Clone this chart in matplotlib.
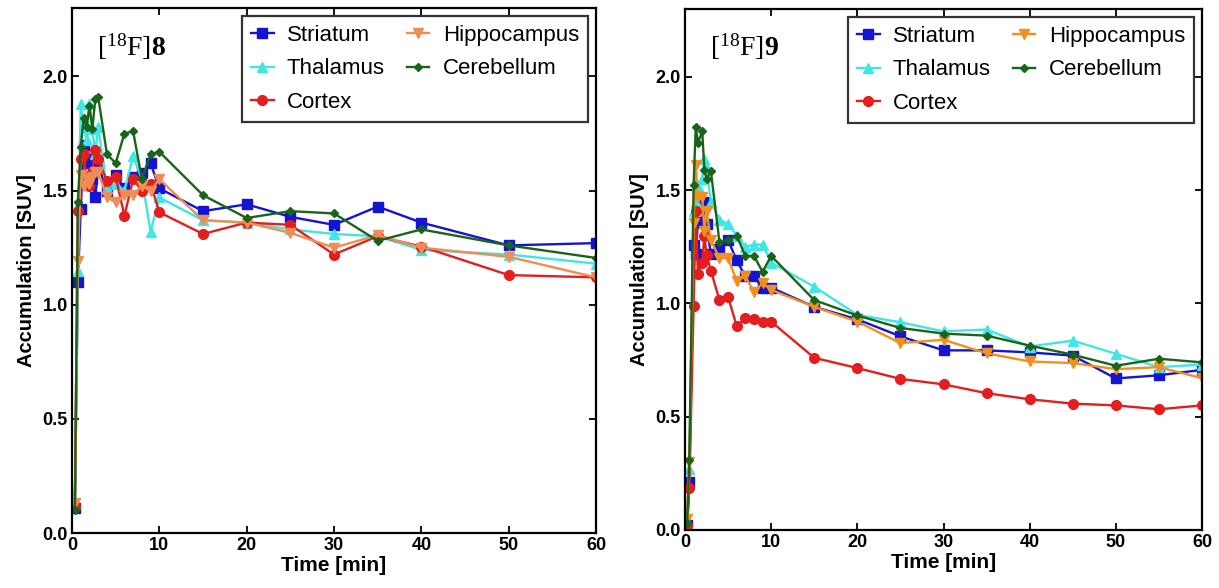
import numpy as np
import matplotlib.pyplot as plt

plt.rcParams['font.family'] = ['Liberation Sans', 'DejaVu Sans']
plt.rcParams['mathtext.fontset'] = 'custom'
plt.rcParams['mathtext.rm'] = 'Liberation Serif'
plt.rcParams['mathtext.bf'] = 'Liberation Serif:bold'

# ---- [18F]8 (left) ----
t8 = [0.33, 0.67, 1.0, 1.33, 1.67, 2.0, 2.33, 2.67, 3.0,
      4, 5, 6, 7, 8, 9, 10, 15, 20, 25, 30, 35, 40, 50, 60]
str8 = [0.11, 1.10, 1.42, 1.70, 1.64, 1.62, 1.55, 1.47, 1.61,
        1.50, 1.57, 1.51, 1.56, 1.575, 1.62, 1.51, 1.41, 1.44, 1.385, 1.35, 1.43, 1.36, 1.26, 1.27]
tha8 = [0.13, 1.15, 1.88, 1.78, 1.72, 1.88, 1.77, 1.66, 1.78,
        1.51, 1.53, 1.50, 1.65, 1.55, 1.32, 1.47, 1.37, 1.36, 1.33, 1.31, 1.30, 1.24, 1.22, 1.18]
cor8 = [0.12, 1.41, 1.64, 1.66, 1.54, 1.52, 1.58, 1.68, 1.64,
        1.54, 1.56, 1.39, 1.55, 1.50, 1.53, 1.405, 1.31, 1.36, 1.35, 1.22, 1.30, 1.255, 1.13, 1.12]
hip8 = [0.13, 1.19, 1.57, 1.52, 1.55, 1.53, 1.56, 1.58, 1.58,
        1.47, 1.45, 1.48, 1.48, 1.52, 1.50, 1.55, 1.37, 1.36, 1.315, 1.25, 1.305, 1.25, 1.21, 1.12]
cer8 = [0.10, 1.45, 1.69, 1.82, 1.78, 1.87, 1.77, 1.90, 1.91,
        1.66, 1.62, 1.75, 1.76, 1.55, 1.66, 1.67, 1.48, 1.38, 1.41, 1.40, 1.28, 1.33, 1.26, 1.205]

# ---- [18F]9 (right) ----
t9 = [0.25, 0.5, 1.0, 1.25, 1.5, 2.0, 2.25, 2.5, 3.0,
      4, 5, 6, 7, 8, 9, 10, 15, 20, 25, 30, 35, 40, 45, 50, 55, 60]
str9 = [0.02, 0.21, 1.26, 1.22, 1.36, 1.36, 1.45, 1.35, 1.22,
        1.24, 1.28, 1.19, 1.12, 1.12, 1.067, 1.07, 0.985, 0.93, 0.855, 0.793, 0.793, 0.784, 0.77, 0.669, 0.683, 0.707]
tha9 = [0.03, 0.27, 1.41, 1.45, 1.52, 1.55, 1.64, 1.60, 1.45,
        1.37, 1.35, 1.30, 1.25, 1.26, 1.26, 1.18, 1.074, 0.95, 0.917, 0.877, 0.885, 0.81, 0.836, 0.778, 0.719, 0.73]
cor9 = [0.02, 0.186, 0.99, 1.41, 1.13, 1.18, 1.30, 1.215, 1.145,
        1.015, 1.03, 0.90, 0.935, 0.93, 0.92, 0.92, 0.76, 0.715, 0.667, 0.643, 0.604, 0.577, 0.558, 0.55, 0.533, 0.55]
hip9 = [0.05, 0.30, 1.355, 1.61, 1.47, 1.47, 1.32, 1.41, 1.28,
        1.20, 1.20, 1.10, 1.12, 1.05, 1.09, 1.06, 0.985, 0.92, 0.825, 0.84, 0.78, 0.744, 0.737, 0.71, 0.719, 0.67]
cer9 = [0.03, 0.31, 1.525, 1.78, 1.71, 1.76, 1.59, 1.55, 1.585,
        1.27, 1.28, 1.30, 1.21, 1.21, 1.14, 1.21, 1.015, 0.947, 0.892, 0.867, 0.858, 0.814, 0.774, 0.725, 0.756, 0.74]

names = ['Striatum', 'Thalamus', 'Cortex', 'Hippocampus', 'Cerebellum']
markers = ['s', '^', 'o', 'v', 'D']
msizes = [6.5, 6.5, 7, 6.5, 4.5]
colors8 = ['#1414D2', '#40E6E6', '#E41E1E', '#F08C55', '#1A641A']
colors9 = ['#1414D2', '#40E6E6', '#E41E1E', '#F0901E', '#1A641A']

fig = plt.figure(figsize=(12.19, 5.88), dpi=100)
ax1 = fig.add_axes([72/1219, 1-533/588, 524/1219, 525/588])
ax2 = fig.add_axes([685/1219, 1-530/588, 517/1219, 521/588])


def panel(ax, t, series, colors, label):
  for y, n, m, ms, c in zip(series, names, markers, msizes, colors):
    ax.plot(t, y, color=c, marker=m, markersize=ms, linewidth=1.7, label=n)
  ax.set_xlim(0, 60)
  ax.set_ylim(0, 2.3)
  ax.set_xticks([0, 10, 20, 30, 40, 50, 60])
  ax.set_yticks([0.0, 0.5, 1.0, 1.5, 2.0])
  ax.set_yticklabels(['0.0', '0.5', '1.0', '1.5', '2.0'])
  ax.tick_params(direction='in', top=True, right=True, length=5, width=1.3,
                 labelsize=13, pad=3)
  for lab in ax.get_xticklabels() + ax.get_yticklabels():
    lab.set_fontweight('bold')
  for s in ax.spines.values():
    s.set_linewidth(1.6)
  ax.set_xlabel('Time [min]', fontsize=15, fontweight='bold', labelpad=1)
  ax.set_ylabel('Accumulation [SUV]', fontsize=14.5, fontweight='bold', labelpad=5)
  ax.text(0.048, 0.927, label, transform=ax.transAxes, fontsize=20,
          va='center', ha='left')
  lgd = ax.legend(ncol=2, loc='upper right', bbox_to_anchor=(1.0, 1.0),
                  borderaxespad=0.35,
                  fontsize=16, frameon=True, fancybox=False, edgecolor='black',
                  handlelength=1.0, columnspacing=1.0, handletextpad=0.6,
                  borderpad=0.42, labelspacing=0.55)
  lgd.get_frame().set_linewidth(1.6)


panel(ax1, t8, [str8, tha8, cor8, hip8, cer8], colors8, r'$\mathrm{[^{18}F]}\mathbf{8}$')
panel(ax2, t9, [str9, tha9, cor9, hip9, cer9], colors9, r'$\mathrm{[^{18}F]}\mathbf{9}$')

plt.savefig('out.png', dpi=100)
